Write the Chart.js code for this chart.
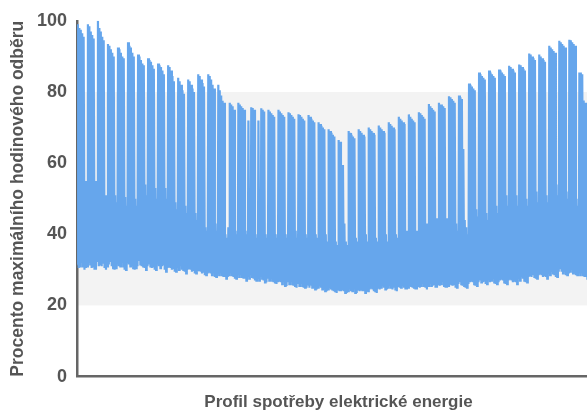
<!DOCTYPE html>
<html>
<head>
<meta charset="utf-8">
<script src="https://cdn.jsdelivr.net/npm/chart.js@4.4.1/dist/chart.umd.min.js"></script>
<style>
  html, body { margin: 0; padding: 0; overflow: hidden; background: #fff; }
  #wrap { position: absolute; left: 0; top: 0; width: 600px; height: 410px; }
</style>
</head>
<body>
<div id="wrap"><canvas id="c"></canvas></div>
<script>
// Daily peak (max hourly load, % of annual max), one row per week Mon..Sun
const dailyPeak = [
  99, 98, 97.5, 96.5, 95.5, 55, 52,
  99, 98.5, 97, 96, 95, 55, 52,
  100, 98, 97, 95.5, 94.5, 51, 49,
  93.5, 93, 92, 91, 90, 51, 49,
  92.5, 92, 91, 90, 89.5, 50.5, 48,
  94, 93, 92.5, 91, 90, 50, 48,
  90.5, 90, 89, 88, 87.5, 54, 51,
  89.5, 89, 88.5, 87.5, 86.5, 53, 50,
  88, 87.5, 87, 86, 85, 53, 50,
  87.5, 87, 86, 84.5, 83, 49, 47,
  84, 83, 82, 80.5, 79.5, 48, 46,
  83.5, 83, 82, 81, 80, 46, 44,
  85, 84.5, 83.5, 82.5, 81.5, 42, 41,
  85, 84.5, 83.5, 82, 81, 43, 41,
  82, 80.5, 79, 77.5, 77, 40, 39,
  42, 77, 76.5, 76, 75, 41, 40,
  77, 76.5, 76, 75.5, 75, 41, 40,
  72, 44, 75.7, 75.5, 75, 40, 39,
  72, 44, 75.4, 75, 74.5, 40, 39,
  75, 74.5, 74, 73.5, 73, 40, 39,
  75, 74.5, 74, 73.5, 73, 40, 39,
  74.3, 74, 73.5, 73, 72.5, 41, 39,
  73.7, 73.5, 73, 72.5, 72, 40, 39,
  73.5, 73, 72.5, 72, 71.5, 40, 39,
  71.5, 71, 70.5, 70, 69.5, 40, 38,
  69.5, 69, 68.5, 68, 67.5, 38, 37,
  66.5, 66, 44, 59.5, 43, 38, 37,
  69, 68.5, 68, 67.5, 67, 39, 38,
  69.5, 69, 68.5, 68, 67.5, 40, 38,
  70, 69.5, 69, 68.5, 68, 39, 38,
  70.6, 70, 69.5, 69, 68.5, 40, 38,
  71.5, 71, 70.5, 70, 69.5, 40, 39,
  73, 72.5, 72, 71.5, 71, 41, 39,
  73.7, 73, 72.5, 72, 71.5, 41, 40,
  74.3, 74, 73.5, 73, 72.5, 43, 41,
  76.6, 76, 75.5, 75, 74.5, 44.5, 42,
  77, 76.5, 76.5, 76, 75.5, 44.5, 42,
  78.8, 78.5, 78, 77.5, 77, 43, 41,
  79, 78.5, 78, 64, 44, 42, 40,
  82.4, 82, 81.5, 81, 80.5, 47, 45,
  85.5, 85, 84.5, 84, 83.5, 46, 44,
  86, 85.5, 85, 84.5, 84, 48, 46,
  86.3, 86, 85.5, 85, 84.5, 51, 48,
  87.4, 87, 86.5, 86, 85.5, 51, 48,
  87.7, 87.5, 87, 86.5, 86, 50, 48,
  90.8, 90.5, 90, 89.5, 89, 52, 49,
  90.5, 90, 89.5, 89, 88.5, 51, 49,
  93, 92.5, 92, 91.5, 91, 54, 51,
  94.4, 94, 93.5, 93, 92.5, 52, 50,
  94.7, 94.5, 94, 93.5, 93, 50, 48,
  85.5, 85.5, 85, 77.6, 77, 70, 48,
  45, 44, 44, 70, 68, 48, 46,
  55
];

// Daily trough (night minimum), one row per week Mon..Sun
const dailyTrough = [
  31.5, 30.5, 31, 32, 31, 30, 30.5,
  31, 32, 31.5, 30.5, 31, 30, 30,
  32.5, 31, 31.5, 31, 32, 30.5, 30,
  31, 31.5, 32.5, 31, 30.5, 30, 30.5,
  31.5, 31, 31, 32, 31, 30, 30,
  32, 31.5, 31, 31, 30.5, 30, 30.5,
  31, 32.5, 31.5, 31, 31, 30.5, 30,
  31, 31.5, 31, 30.5, 31, 30, 30,
  31.5, 31, 30.5, 31, 31.5, 30, 29.5,
  30.5, 31, 30.5, 30, 30.5, 29.5, 29.5,
  30.5, 30, 31, 30, 30, 29.5, 29,
  30, 30.5, 30, 29.5, 30, 29, 29,
  29.5, 30, 29.5, 29, 29.5, 28.5, 28.5,
  29, 29.5, 29, 28.5, 29, 28, 28,
  29, 28.5, 29, 28.5, 28, 28, 27.5,
  28, 28.5, 29, 28.5, 28, 27.5, 27.5,
  28.5, 28, 28.5, 28, 27.5, 27.5, 27,
  28, 27.5, 28.5, 28, 27.5, 27, 27,
  27.5, 27, 28, 27.5, 27, 26.5, 26.5,
  27.5, 27, 27.5, 27, 26.5, 26.5, 26,
  26.5, 27, 26.5, 26, 26.5, 25.5, 25.5,
  26.5, 26, 26.5, 26, 25.5, 25.5, 25,
  26, 25.5, 26, 25.5, 25, 25, 25,
  25.5, 25, 25.5, 25, 25, 24.5, 24.5,
  25, 25.5, 25, 24.5, 24.5, 24, 24,
  24.5, 25, 24.5, 24.5, 24, 24, 23.5,
  24.5, 24, 24, 24.5, 24, 23.5, 23.5,
  24, 24.5, 24, 24, 24.5, 23.5, 23.5,
  24.5, 24, 24.5, 24, 24, 23.5, 24,
  24, 24.5, 25, 24.5, 24, 24, 23.5,
  25, 24.5, 25, 25.5, 25, 24.5, 24.5,
  25, 25.5, 25, 24.5, 25, 24.5, 24,
  25.5, 25, 25, 25.5, 25, 24.5, 24.5,
  25, 25.5, 25.5, 25, 25, 24.5, 24.5,
  25.5, 25, 25.5, 26, 25.5, 25, 24.5,
  25.5, 26, 25.5, 25.5, 26, 25, 25,
  26, 25.5, 26, 26.5, 25.5, 25, 25,
  25.5, 26, 26, 25.5, 26, 25, 25,
  26, 26.5, 26, 25.5, 25.5, 25, 25,
  26, 26.5, 27, 26.5, 26, 25.5, 25.5,
  26.5, 27, 26.5, 26.5, 27, 26, 26,
  27, 26.5, 27, 27.5, 26.5, 26, 26,
  26.5, 27, 27.5, 27, 26.5, 26, 26,
  27, 27.5, 27, 26.5, 27, 26.5, 26,
  27.5, 27, 28, 27.5, 27, 26.5, 26.5,
  28, 28.5, 28, 28.5, 28, 27.5, 27.5,
  28.5, 29, 28.5, 28, 28.5, 28, 27.5,
  29, 28.5, 29.5, 29, 28.5, 28, 28,
  29.5, 30.5, 29.5, 29, 29.5, 28.5, 28.5,
  29, 29.5, 30, 29, 29, 28.5, 28.5,
  29, 28.5, 29, 28.5, 28, 28, 27.5,
  27.5, 27, 27, 28, 28, 27.5, 27,
  27.5
];

const yTicks = [0, 20, 40, 60, 80, 100];
const bandRange = [20, 80];
const yTitle = 'Procento maximálního hodinového odběru';
const xTitle = 'Profil spotřeby elektrické energie';

// series: each day -> night trough then daytime peak
const points = [];
for (let d = 0; d < dailyPeak.length; d++) {
  points.push({ x: d + 0.2, y: dailyTrough[d] });
  points.push({ x: d + 0.6, y: dailyPeak[d] });
}

const bandPlugin = {
  id: 'band',
  beforeDraw(chart) {
    const { ctx, chartArea, scales } = chart;
    const yTop = scales.y.getPixelForValue(bandRange[1]);
    const yBot = scales.y.getPixelForValue(bandRange[0]);
    ctx.save();
    ctx.fillStyle = '#f3f3f3';
    ctx.fillRect(chartArea.left, yTop, chartArea.right - chartArea.left, yBot - yTop);
    ctx.restore();
  }
};

const font = "'Liberation Sans', Arial, Helvetica, sans-serif";

new Chart(document.getElementById('c'), {
  type: 'line',
  data: {
    datasets: [{
      data: points,
      borderColor: 'rgb(102,166,236)',
      borderWidth: 2.2,
      pointRadius: 0,
      fill: false,
      tension: 0
    }]
  },
  options: {
    responsive: true,
    maintainAspectRatio: false,
    animation: false,
    events: [],
    layout: { padding: { top: 9, left: 8, right: 0, bottom: -3 } },
    plugins: { legend: { display: false }, tooltip: { enabled: false } },
    scales: {
      x: {
        type: 'linear',
        min: 0,
        max: dailyPeak.length,
        ticks: { display: false },
        grid: { display: false, drawTicks: false },
        border: { display: true, color: '#666', width: 2.5 },
        title: {
          display: true, text: xTitle, color: '#555',
          font: { family: font, size: 17, weight: 'bold' },
          padding: { top: 16, bottom: 0 }
        }
      },
      y: {
        min: 0,
        max: 100,
        afterBuildTicks: (axis) => { axis.ticks = yTicks.map(v => ({ value: v })); },
        ticks: {
          color: '#555', padding: 10,
          font: { family: font, size: 18, weight: 'bold' }
        },
        grid: { display: false, drawTicks: false },
        border: { display: true, color: '#666', width: 2.5 },
        title: {
          display: true, text: yTitle, color: '#555',
          font: { family: font, size: 17.5, weight: 'bold' },
          padding: { top: 0, bottom: -2 }
        }
      }
    }
  },
  plugins: [bandPlugin]
});
</script>
</body>
</html>
